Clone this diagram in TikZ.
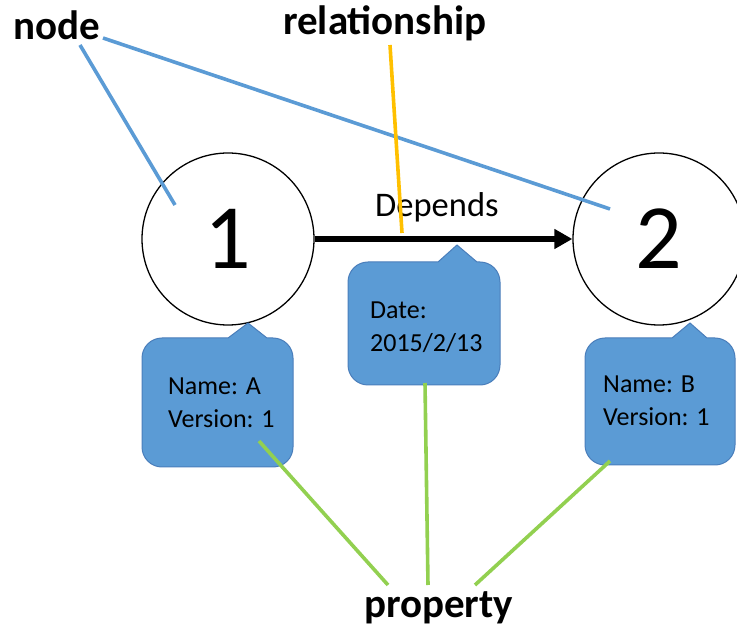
\documentclass[tikz,border=0pt]{standalone}
\usepackage{fontspec}
\setmainfont{Carlito}
\usetikzlibrary{arrows.meta}

\definecolor{calloutfill}{HTML}{5B9BD5}
\definecolor{calloutedge}{HTML}{4A7EBB}
\definecolor{nodeline}{HTML}{5B9BD5}
\definecolor{relline}{HTML}{FFC000}
\definecolor{propline}{HTML}{92D050}

\tikzset{
  graphnode/.style={circle, draw=black, line width=1.3pt, minimum size=172pt, inner sep=0pt,
                    font=\fontsize{92}{92}\selectfont},
  termlabel/.style={font=\bfseries\fontsize{41}{41}\selectfont, inner sep=0pt, anchor=base west},
  proptext/.style={font=\fontsize{26}{33}\selectfont, align=left, inner sep=0pt, anchor=north west},
  callout/.style={fill=calloutfill, draw=calloutedge, line width=1pt},
  nodelink/.style={draw=nodeline, line width=3.6pt},
  rellink/.style={draw=relline, line width=3.6pt},
  proplink/.style={draw=propline, line width=3.6pt},
  edgearrow/.style={line width=5.5pt, -{Triangle[length=18pt, width=19pt]}},
}

% callout with rounded box and a sharp pointer on its top edge
% #1 left, #2 top, #3 right, #4 bottom, #5 pointer base left, #6 pointer base right, #7 tip
\newcommand{\propcallout}[7]{%
  \draw[callout] (#7) -- (#6,#2) [rounded corners=20pt] -- (#3,#2) -- (#3,#4) -- (#1,#4) -- (#1,#2)
    [sharp corners] -- (#5,#2) -- cycle;%
}

\begin{document}
\begin{tikzpicture}[x=1pt, y=-1pt]
  \useasboundingbox (0,0) rectangle (737,628);
  \clip (0,0) rectangle (737,628);

  % the two graph nodes
  \node[graphnode] (n1) at (228,239) {1};
  \node[graphnode] (n2) at (659,239) {2};

  % the relationship between them
  \draw[edgearrow] (n1) -- (n2);
  \node[font=\fontsize{34.5}{34.5}\selectfont, inner sep=0pt, anchor=base west] (dep) at (375,217) {Depends};

  % property callouts
  \coordinate (t1) at (248,323);
  \coordinate (t2) at (457,245);
  \coordinate (t3) at (690,323);
  \propcallout{142}{338}{293}{467}{228}{267}{t1}
  \propcallout{348}{262}{500}{385}{438}{477}{t2}
  \propcallout{585}{338}{735}{465}{672}{707}{t3}
  \node[proptext] (p1) at (168,378) {Name: A\\Version: 1};
  \node[proptext] (p2) at (370,302) {Date:\\2015/2/13};
  \node[proptext] (p3) at (603,376) {Name: B\\Version: 1};

  % terminology labels
  \node[termlabel] (lnode) at (13,40) {node};
  \node[termlabel] (lrel) at (283,35) {relationship};
  \node[termlabel] (lprop) at (364,617) {property};

  % pointers from the labels
  \coordinate (ln1) at (80,45);
  \coordinate (ln2) at (103,38);
  \coordinate (in1) at (175,205);
  \coordinate (in2) at (610,209);
  \draw[nodelink] (ln1) -- (in1);
  \draw[nodelink] (ln2) -- (in2);

  \coordinate (lr) at (390,45);
  \coordinate (onedge) at (402,233);
  \draw[rellink] (lr) -- (onedge);

  \coordinate (c1) at (259,441);
  \coordinate (c2) at (425,383);
  \coordinate (c3) at (610,461);
  \coordinate (lp1) at (388,585);
  \coordinate (lp2) at (428,585);
  \coordinate (lp3) at (475,585);
  \draw[proplink] (c1) -- (lp1);
  \draw[proplink] (c2) -- (lp2);
  \draw[proplink] (c3) -- (lp3);
\end{tikzpicture}
\end{document}
